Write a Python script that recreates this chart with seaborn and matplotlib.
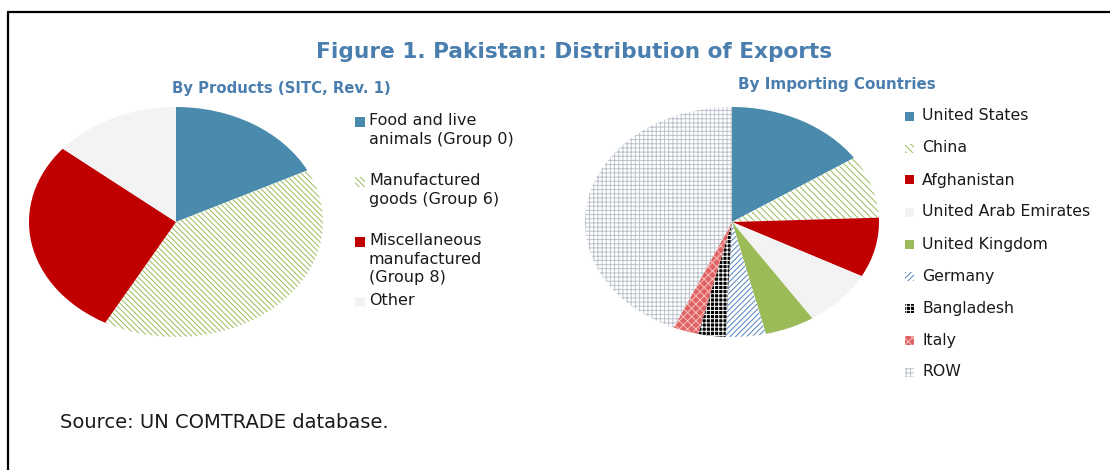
import matplotlib
matplotlib.use("Agg")
import matplotlib.pyplot as plt
import seaborn as sns
from matplotlib.patches import Rectangle
from matplotlib.lines import Line2D

# ---------------- data ----------------
title = "Figure 1. Pakistan: Distribution of Exports"
left_title = "By Products (SITC, Rev. 1)"
right_title = "By Importing Countries"
source_note = "Source: UN COMTRADE database."

product_labels = ["Food and live\nanimals (Group 0)", "Manufactured\ngoods (Group 6)",
                  "Miscellaneous\nmanufactured\n(Group 8)", "Other"]
product_shares = [17.6, 40.4, 28.0, 14.0]

country_labels = ["United States", "China", "Afghanistan", "United Arab Emirates",
                  "United Kingdom", "Germany", "Bangladesh", "Italy", "ROW"]
country_shares = [15.6, 8.8, 8.4, 8.0, 5.5, 4.4, 3.0, 2.8, 43.5]

# ---------------- styles ----------------
BLUE = "#4A8BAD"
RED = "#C00000"
GREEN = "#9BBB59"
TITLE_BLUE = "#4A7EAF"

# (facecolor, hatch, hatchcolor)
product_styles = [
    (BLUE, None, None),
    ("white", "\\\\\\\\\\\\", GREEN),
    (RED, None, None),
    ("#F3F3F3", None, None),
]
country_styles = [
    (BLUE, None, None),
    ("white", "\\\\\\\\\\", GREEN),
    (RED, None, None),
    ("#F3F3F3", None, None),
    (GREEN, None, None),
    ("white", "//////", "#4F81BD"),
    ("black", "++++", "white"),
    ("#E06262", "xxxx", "#F6C0C0"),
    ("white", "++++", "#BCC2CC"),
]

sns.set_theme(style="white")
plt.rcParams["font.family"] = ["DejaVu Sans"]
plt.rcParams["hatch.linewidth"] = 0.7

W, H = 1110, 470
fig = plt.figure(figsize=(W / 100, H / 100), dpi=100)


def fbox(x0, y0, x1, y1):
    return [x0 / W, 1 - y1 / H, (x1 - x0) / W, (y1 - y0) / H]


def style_patch(p, st):
    fc, hatch, hc = st
    p.set_facecolor(fc)
    if hatch:
        p.set_hatch(hatch)
        p.set_edgecolor(hc)
    p.set_linewidth(0)


def draw_pie(box, shares, styles):
    ax = fig.add_axes(box)
    wedges, _ = ax.pie(shares, startangle=90, counterclock=False,
                       wedgeprops=dict(linewidth=0))
    for w, st in zip(wedges, styles):
        style_patch(w, st)
    ax.set_aspect("auto")
    ax.set_xlim(-1, 1)
    ax.set_ylim(-1, 1)
    ax.axis("off")
    return ax


draw_pie(fbox(29, 107, 323, 337), product_shares, product_styles)
draw_pie(fbox(585, 107, 879, 337), country_shares, country_styles)

# ---------------- legends ----------------
def legend(x_box, x_text, y_first, step, size, labels, styles, multi=False):
    for i, (lab, st) in enumerate(zip(labels, styles)):
        yc = y_first + i * step
        r = Rectangle(((x_box) / W, 1 - (yc + size / 2) / H), size / W, size / H,
                      transform=fig.transFigure)
        style_patch(r, st)
        fig.add_artist(r)
        if multi:
            fig.text(x_text / W, 1 - (yc - 9) / H, lab, ha="left", va="top",
                     fontsize=11.5, color="#1A1A1A", linespacing=1.3)
        else:
            fig.text(x_text / W, 1 - yc / H, lab, ha="left", va="center",
                     fontsize=11.3, color="#1A1A1A")


legend(355, 369, 122, 60, 10, product_labels, product_styles, multi=True)
legend(905, 922, 116, 32, 9, country_labels, country_styles)

# ---------------- texts ----------------
fig.text(574 / W, 1 - 52 / H, title, ha="center", va="center",
         fontsize=15.6, fontweight="bold", color=TITLE_BLUE)
fig.text(281 / W, 1 - 89 / H, left_title, ha="center", va="center",
         fontsize=10.7, fontweight="bold", color=TITLE_BLUE)
fig.text(837 / W, 1 - 85 / H, right_title, ha="center", va="center",
         fontsize=10.9, fontweight="bold", color=TITLE_BLUE)
fig.text(60 / W, 1 - 423 / H, source_note, ha="left", va="center",
         fontsize=14, color="#1A1A1A")

# ---------------- frame ----------------
fig.add_artist(Line2D([8 / W, 1.0], [1 - 12 / H, 1 - 12 / H], color="black",
                      linewidth=1.6, transform=fig.transFigure))
fig.add_artist(Line2D([8 / W, 8 / W], [1 - 12 / H, 0], color="black",
                      linewidth=1.6, transform=fig.transFigure))

fig.savefig("out.png", dpi=100, facecolor="white")
